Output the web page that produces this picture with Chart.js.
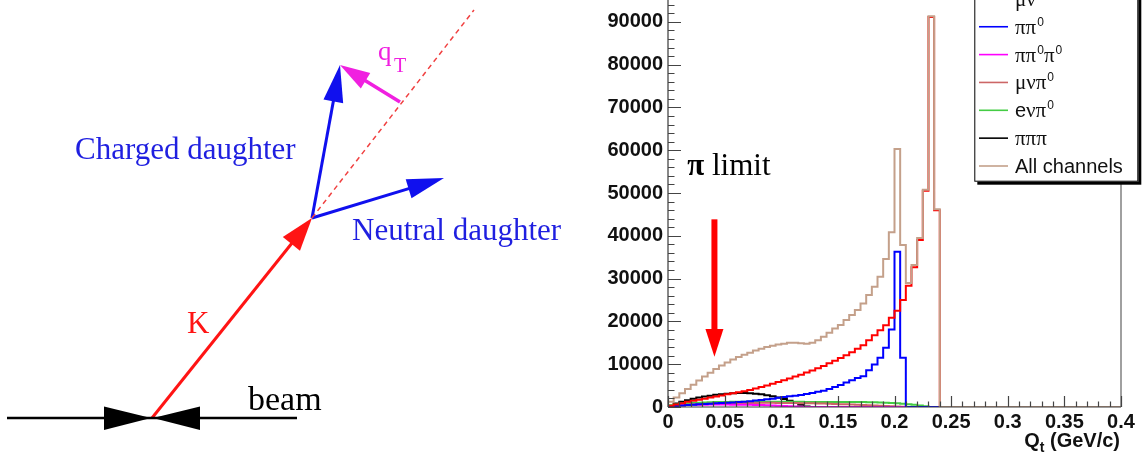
<!DOCTYPE html>
<html lang="en">
<head>
<meta charset="UTF-8">
<title>Qt of kaon decays</title>
<script src="https://cdn.jsdelivr.net/npm/chart.js"></script>
<style>
  html, body { margin: 0; padding: 0; background: #fff; overflow: hidden; }
  .wrap { position: relative; width: 1142px; height: 456px; overflow: hidden; }
  .box { position: absolute; top: 0; height: 456px; }
</style>
</head>
<body>
<div class="wrap">
  <div class="box" style="left:0;width:580px"><canvas id="sketch"></canvas></div>
  <div class="box" style="left:580px;width:562px"><canvas id="qtChart"></canvas></div>
</div>
<script>
// histogram binning (GeV/c)
const binWidth = 0.005;
const nBins = 80;

// entries per bin, starting at Qt = 0; bins not listed are empty
const muNu = [300, 600, 900, 1200, 1450, 1700, 1950, 2200, 2450, 2700, 2950, 3200, 3450, 3700, 4000, 4350,
  4700, 5050, 5450, 5850, 6250, 6650, 7100, 7550, 8050, 8550, 9050, 9600, 10200, 10800, 11450, 12100,
  12800, 13600, 14450, 15620, 16790, 17960, 19130, 20840, 22480, 24990, 28340, 32650, 39040, 50500, 91100, 46000];
const piPi0 = [150, 250, 350, 450, 550, 620, 700, 780, 860, 930, 1000, 1050, 1150, 1250, 1350, 1500,
  1650, 1800, 1950, 2150, 2350, 2500, 2650, 2800, 3050, 3300, 3550, 3800, 4200, 4650, 5150, 5700,
  6250, 6750, 7190, 8600, 9930, 11480, 13820, 18130, 36300, 11480];
const piPi0Pi0 = [150, 300, 400, 450, 500, 530, 550, 560, 570, 570, 560, 550, 540, 520, 500, 470,
  440, 400, 350, 300, 240, 170, 100, 40];
const muNuPi0 = [150, 300, 420, 520, 600, 660, 720, 770, 810, 850, 880, 900, 920, 940, 950, 960,
  970, 970, 970, 960, 950, 940, 920, 900, 880, 850, 820, 790, 750, 710, 670, 620,
  570, 520, 460, 400, 340, 280, 220, 160, 100, 50, 20];
const eNuPi0 = [400, 600, 750, 870, 950, 1020, 1070, 1110, 1140, 1160, 1180, 1200, 1210, 1220, 1230, 1240,
  1240, 1240, 1240, 1240, 1230, 1220, 1210, 1200, 1190, 1190, 1190, 1190, 1185, 1180, 1180, 1170,
  1160, 1150, 1140, 1120, 1100, 1050, 1000, 950, 880, 780, 650, 500, 340, 150];
const piPiPi = [300, 800, 1200, 1600, 1900, 2200, 2450, 2650, 2850, 3000, 3100, 3200, 3250, 3250, 3200, 3100,
  2950, 2750, 2500, 2200, 1850, 1450, 1000, 500, 100];
const allChannels = [1200, 2200, 3200, 4200, 5200, 6200, 7100, 8000, 8900, 9700, 10400, 11100, 11700, 12200, 12700, 13200,
  13600, 14000, 14300, 14600, 14800, 15000, 15000, 14900, 14800, 15000, 15600, 16400, 17350, 18360, 19140, 20300,
  21500, 22650, 24200, 26160, 28100, 30450, 34600, 40850, 60280, 37870, 29000, 33200, 39500, 50750, 91330, 46230];

const channelLabels = ['μν', 'ππ^0', 'ππ^0π^0', 'μνπ^0', 'eνπ^0', 'πππ', 'All channels'];
const channelColors = ['#ff0000', '#0000ff', '#ff00ff', '#cc6666', '#44cc44', '#000000', '#c4a08a'];
const channelValues = [muNu, piPi0, piPi0Pi0, muNuPi0, eNuPi0, piPiPi, allChannels];

const yTicks = [0, 10000, 20000, 30000, 40000, 50000, 60000, 70000, 80000, 90000];
const xTicks = [0, 0.05, 0.1, 0.15, 0.2, 0.25, 0.3, 0.35, 0.4];

// pion limit marker
const piLimitQt = 0.041;
const piLimitArrow = [43850, 18220, 11750]; // shaft top, head base, tip

// sketch of the decay (pixel-like units, y downwards)
const sketchArrows = [
  { from: [152, 418], to: [312, 218], color: '#ff1414', width: 3, head: [33, 11] },
  { from: [312, 218], to: [340, 65], color: '#1010ee', width: 3, head: [37, 10] },
  { from: [312, 218], to: [444, 178], color: '#1010ee', width: 3, head: [37, 10] },
  { from: [400, 102], to: [340, 65], color: '#f020e0', width: 3.5, head: [30, 9] }
];
const sketchBeam = [[7, 418], [297, 418]];
const sketchBeamHeads = [
  [[104, 406.5], [104, 430], [151, 418]],
  [[200, 406.5], [200, 430], [153, 418]]
];
const sketchDashed = [[312, 218], [474, 10]];
const sketchLabels = [
  { text: 'K', at: [187, 333], color: '#ff1414', font: '31px "Liberation Serif", serif' },
  { text: 'Charged daughter', at: [75, 159], color: '#1f1fe0', font: '31px "Liberation Serif", serif' },
  { text: 'Neutral daughter', at: [352, 240], color: '#1f1fe0', font: '31px "Liberation Serif", serif' },
  { text: 'beam', at: [248, 410], color: '#000', font: '34px "Liberation Serif", serif' },
  { text: 'q', at: [378, 60], color: '#f020e0', font: '27px "Liberation Serif", serif' },
  { text: 'T', at: [394, 72], color: '#f020e0', font: '20px "Liberation Serif", serif' }
];

const sansBold = '"Liberation Sans", Arial, sans-serif';
const serif = '"Liberation Serif", "Times New Roman", serif';

function histPoints(values) {
  const pts = [{ x: 0, y: 0 }];
  for (let i = 0; i < nBins; i++) {
    pts.push({ x: i * binWidth, y: i < values.length ? values[i] : 0 });
  }
  pts.push({ x: nBins * binWidth, y: 0 });
  return pts;
}

// ---------- left: decay sketch ----------
const sketchPlugin = {
  id: 'sketchPlugin',
  afterDatasetsDraw(chart) {
    const ctx = chart.ctx;
    const sx = v => chart.scales.x.getPixelForValue(v);
    const sy = v => chart.scales.y.getPixelForValue(v);
    ctx.save();
    chart.data.datasets.forEach(ds => {
      if (ds.polygon) {
        ctx.fillStyle = ds.polygon;
        ctx.beginPath();
        ds.data.forEach((p, i) => i ? ctx.lineTo(sx(p.x), sy(p.y)) : ctx.moveTo(sx(p.x), sy(p.y)));
        ctx.closePath();
        ctx.fill();
      }
      if (ds.tip) {
        const tx = sx(ds.tip.x), ty = sy(ds.tip.y);
        const fx = sx(ds.data[0].x), fy = sy(ds.data[0].y);
        const len = Math.hypot(tx - fx, ty - fy);
        const ux = (tx - fx) / len, uy = (ty - fy) / len;
        const [hl, hw] = ds.head;
        const bx = tx - ux * hl, by = ty - uy * hl;
        ctx.fillStyle = ds.borderColor;
        ctx.beginPath();
        ctx.moveTo(tx, ty);
        ctx.lineTo(bx - uy * hw, by + ux * hw);
        ctx.lineTo(bx + uy * hw, by - ux * hw);
        ctx.closePath();
        ctx.fill();
      }
    });
    ctx.textAlign = 'left';
    ctx.textBaseline = 'alphabetic';
    sketchLabels.forEach(t => {
      ctx.font = t.font;
      ctx.fillStyle = t.color;
      ctx.fillText(t.text, sx(t.at[0]), sy(t.at[1]));
    });
    ctx.restore();
  }
};

const sketchSets = [];
sketchSets.push({
  data: sketchDashed.map(p => ({ x: p[0], y: p[1] })),
  showLine: true, borderColor: '#f04040', borderWidth: 1.5, borderDash: [5, 4], pointRadius: 0
});
sketchSets.push({
  data: sketchBeam.map(p => ({ x: p[0], y: p[1] })),
  showLine: true, borderColor: '#000', borderWidth: 2.5, pointRadius: 0
});
sketchBeamHeads.forEach(tri => sketchSets.push({
  data: tri.map(p => ({ x: p[0], y: p[1] })),
  showLine: false, pointRadius: 0, polygon: '#000'
}));
sketchArrows.forEach(a => {
  const dx = a.to[0] - a.from[0], dy = a.to[1] - a.from[1];
  const len = Math.hypot(dx, dy);
  const back = a.head[0] * 0.6 / len;
  sketchSets.push({
    data: [{ x: a.from[0], y: a.from[1] }, { x: a.to[0] - dx * back, y: a.to[1] - dy * back }],
    tip: { x: a.to[0], y: a.to[1] }, head: a.head,
    showLine: true, borderColor: a.color, borderWidth: a.width, pointRadius: 0
  });
});

new Chart(document.getElementById('sketch'), {
  type: 'scatter',
  data: { datasets: sketchSets },
  options: {
    responsive: true,
    maintainAspectRatio: false,
    animation: false,
    events: [],
    layout: { padding: 0 },
    plugins: { legend: { display: false }, tooltip: { enabled: false } },
    scales: {
      x: { type: 'linear', min: 0, max: 580, display: false },
      y: { type: 'linear', min: 0, max: 456, reverse: true, display: false }
    }
  },
  plugins: [sketchPlugin]
});

// ---------- right: Qt histogram ----------
function drawLegendLabel(ctx, label, x, y) {
  let cx = x;
  for (let i = 0; i < label.length; i++) {
    const ch = label[i];
    if (ch === '^') {
      const sup = label[++i];
      ctx.font = '12px ' + sansBold;
      ctx.fillText(sup, cx + 1, y - 8);
      cx += ctx.measureText(sup).width + 1;
    } else if ('πμν'.includes(ch)) {
      ctx.font = '21px ' + serif;
      ctx.fillText(ch, cx, y);
      cx += ctx.measureText(ch).width;
    } else {
      ctx.font = '20px "Liberation Sans", Arial, sans-serif';
      ctx.fillText(ch, cx, y);
      cx += ctx.measureText(ch).width;
    }
  }
}

const rootStyle = {
  id: 'rootStyle',
  afterDatasetsDraw(chart) {
    const { ctx, chartArea: a, scales: { x, y } } = chart;
    ctx.save();

    // frame and axes
    ctx.strokeStyle = '#808080';
    ctx.lineWidth = 1.5;
    ctx.beginPath();
    ctx.moveTo(a.right, a.top);
    ctx.lineTo(a.right, a.bottom);
    ctx.stroke();
    ctx.strokeStyle = '#3a3a3a';
    ctx.lineWidth = 1.2;
    ctx.beginPath();
    ctx.moveTo(a.left, a.bottom);
    ctx.lineTo(a.right, a.bottom);
    ctx.moveTo(a.left, a.top);
    ctx.lineTo(a.left, a.bottom);
    ctx.stroke();

    // ticks drawn inside, ROOT style
    ctx.strokeStyle = '#444';
    ctx.lineWidth = 1.2;
    ctx.beginPath();
    for (let v = 0; v <= y.max; v += 2000) {
      const py = Math.round(y.getPixelForValue(v)) + 0.5;
      const len = v % 10000 === 0 ? 13 : 6.5;
      ctx.moveTo(a.left, py);
      ctx.lineTo(a.left + len, py);
    }
    for (let i = 0; i <= 40; i++) {
      const px = Math.round(x.getPixelForValue(i * 0.01)) + 0.5;
      const len = i % 5 === 0 ? 11 : 5.5;
      ctx.moveTo(px, a.bottom);
      ctx.lineTo(px, a.bottom - len);
    }
    ctx.stroke();

    // axis title Q_t (GeV/c)
    ctx.fillStyle = '#111';
    ctx.textBaseline = 'alphabetic';
    ctx.textAlign = 'left';
    ctx.font = 'bold 20px ' + sansBold;
    const wQ = ctx.measureText('Q').width;
    const wRest = ctx.measureText(' (GeV/c)').width;
    ctx.font = 'bold 14px ' + sansBold;
    const wT = ctx.measureText('t').width;
    let tx = a.right - 1 - (wQ + wT + wRest);
    const ty = a.bottom + 40;
    ctx.font = 'bold 20px ' + sansBold;
    ctx.fillText('Q', tx, ty);
    ctx.font = 'bold 14px ' + sansBold;
    ctx.fillText('t', tx + wQ, ty + 5);
    ctx.font = 'bold 20px ' + sansBold;
    ctx.fillText(' (GeV/c)', tx + wQ + wT, ty);

    // pion limit arrow and text
    const ax = x.getPixelForValue(piLimitQt);
    const yTop = y.getPixelForValue(piLimitArrow[0]);
    const yBase = y.getPixelForValue(piLimitArrow[1]);
    const yTip = y.getPixelForValue(piLimitArrow[2]);
    ctx.fillStyle = '#ff0000';
    ctx.fillRect(ax - 3, yTop, 6, yBase - yTop + 1);
    ctx.beginPath();
    ctx.moveTo(ax - 9, yBase);
    ctx.lineTo(ax + 9, yBase);
    ctx.lineTo(ax, yTip);
    ctx.closePath();
    ctx.fill();
    ctx.fillStyle = '#000';
    const lx = x.getPixelForValue(0.017), ly = y.getPixelForValue(54200);
    ctx.font = 'bold 31px ' + serif;
    ctx.fillText('π', lx, ly);
    const wPi = ctx.measureText('π ').width;
    ctx.font = '31px ' + serif;
    ctx.fillText('limit', lx + wPi, ly);

    // legend box
    const left = a.right - 146.7, right = a.right + 17.3, bottom = 181.7, top = -40;
    ctx.fillStyle = '#000';
    ctx.fillRect(left + 3, top + 3, right - left, bottom - top);
    ctx.fillStyle = '#fff';
    ctx.fillRect(left, top, right - left, bottom - top);
    ctx.strokeStyle = '#000';
    ctx.lineWidth = 1;
    ctx.strokeRect(left + 0.5, top + 0.5, right - left - 1, bottom - top - 1);
    const n = channelLabels.length;
    chart.data.datasets.forEach((ds, i) => {
      const cy = 166 - (n - 1 - i) * 27.85;
      ctx.strokeStyle = ds.borderColor;
      ctx.lineWidth = 1.6;
      ctx.beginPath();
      ctx.moveTo(a.right - 142, cy);
      ctx.lineTo(a.right - 113, cy);
      ctx.stroke();
      ctx.fillStyle = '#111';
      drawLegendLabel(ctx, ds.label, a.right - 106, cy + 7);
    });
    ctx.restore();
  }
};

const histSets = channelLabels.map((label, i) => ({
  label: label,
  data: histPoints(channelValues[i]),
  borderColor: channelColors[i],
  borderWidth: 2,
  stepped: 'before',
  pointRadius: 0,
  fill: false,
  order: i === channelLabels.length - 1 ? 0 : 1
}));

new Chart(document.getElementById('qtChart'), {
  type: 'line',
  data: { datasets: histSets },
  options: {
    responsive: true,
    maintainAspectRatio: false,
    animation: false,
    events: [],
    layout: { padding: { left: 0, right: 21, top: 0, bottom: 0 } },
    plugins: { legend: { display: false }, tooltip: { enabled: false } },
    scales: {
      x: {
        type: 'linear',
        min: 0,
        max: 0.4,
        grid: { display: false, drawTicks: false },
        border: { display: false },
        afterBuildTicks: s => { s.ticks = xTicks.map(v => ({ value: v })); },
        afterFit: s => { s.height = 49; s.paddingLeft = 0; s.paddingRight = 0; },
        ticks: {
          padding: 3,
          maxRotation: 0,
          autoSkip: false,
          color: '#111',
          font: { family: sansBold, size: 20, weight: 'bold' },
          callback: v => String(+(+v).toFixed(2))
        }
      },
      y: {
        type: 'linear',
        min: 0,
        max: 95100,
        grid: { display: false, drawTicks: false },
        border: { display: false },
        afterBuildTicks: s => { s.ticks = yTicks.map(v => ({ value: v })); },
        afterFit: s => { s.width = 88; s.paddingTop = 0; s.paddingBottom = 0; },
        ticks: {
          padding: 5,
          autoSkip: false,
          color: '#111',
          font: { family: sansBold, size: 20, weight: 'bold' },
          callback: v => String(v)
        }
      }
    }
  },
  plugins: [rootStyle]
});
</script>
</body>
</html>
